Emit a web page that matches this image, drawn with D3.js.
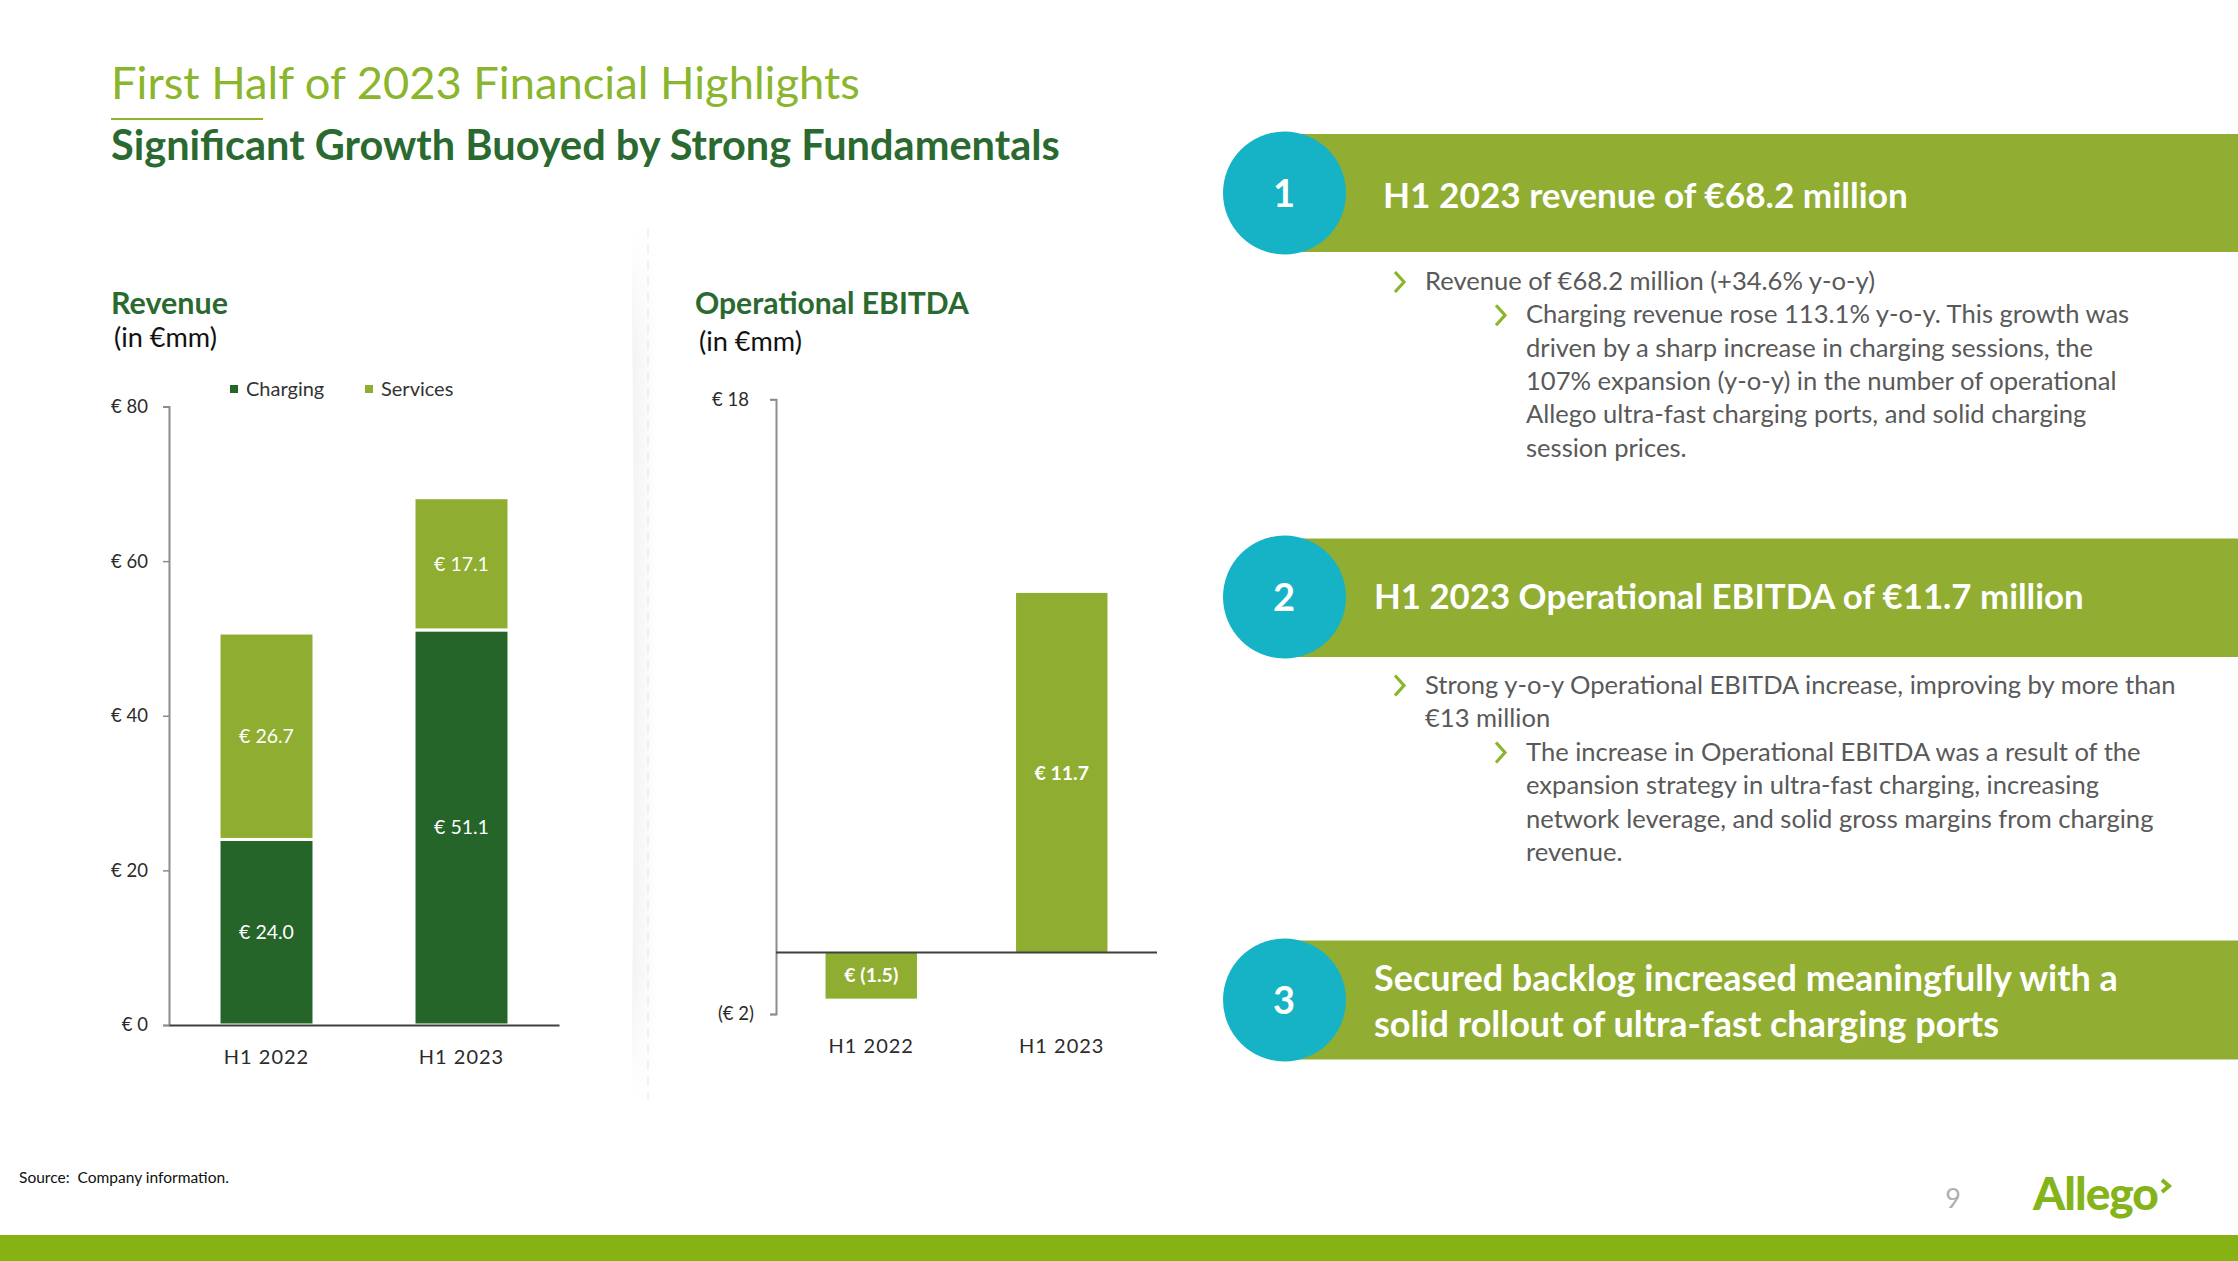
<!DOCTYPE html>
<html>
<head>
<meta charset="utf-8">
<script src="https://cdn.jsdelivr.net/npm/d3@7"></script>
<style>
  html, body { margin: 0; padding: 0; background: #ffffff; }
  svg { display: block; font-family: Lato, "Open Sans", sans-serif; }
  .pre { white-space: pre; }
</style>
</head>
<body>
<svg id="slide" width="2238" height="1261"></svg>
<script>
// ---------- DATA ----------
const revCategories = ["H1 2022", "H1 2023"];
const revSeries = ["Charging", "Services"];
const revCharging = [24.0, 51.1];
const revServices = [26.7, 17.1];
const revTicks = [0, 20, 40, 60, 80];

const ebitdaCategories = ["H1 2022", "H1 2023"];
const ebitdaValues = [-1.5, 11.7];
const ebitdaTicks = [-2, 18];

const slideTitle = "First Half of 2023 Financial Highlights";
const slideSubtitle = "Significant Growth Buoyed by Strong Fundamentals";
const bannerTitles = [
  ["H1 2023 revenue of €68.2 million"],
  ["H1 2023 Operational EBITDA of €11.7 million"],
  ["Secured backlog increased meaningfully with a", "solid rollout of ultra-fast charging ports"]
];
const bullets1 = [
  { level: 1, lines: ["Revenue of €68.2 million (+34.6% y-o-y)"] },
  { level: 2, lines: ["Charging revenue rose 113.1% y-o-y. This growth was",
                      "driven by a sharp increase in charging sessions, the",
                      "107% expansion (y-o-y) in the number of operational",
                      "Allego ultra-fast charging ports, and solid charging",
                      "session prices."] }
];
const bullets2 = [
  { level: 1, lines: ["Strong y-o-y Operational EBITDA increase, improving by more than",
                      "€13 million"] },
  { level: 2, lines: ["The increase in Operational EBITDA was a result of the",
                      "expansion strategy in ultra-fast charging, increasing",
                      "network leverage, and solid gross margins from charging",
                      "revenue."] }
];

// ---------- STYLE ----------
const C = {
  dark: "#256529",
  light: "#8fad31",
  banner: "#91ad32",
  teal: "#16b3c7",
  lime: "#8ab52c",
  subtitle: "#2a6a30",
  body: "#595959",
  axisText: "#2b2b2b",
  band: "#86b214"
};

const svg = d3.select("#slide");

function fit(sel, target) {
  const w = sel.node().getComputedTextLength();
  const fs = parseFloat(sel.attr("font-size"));
  const nfs = fs * target / w;
  sel.attr("font-size", nfs);
  return nfs;
}

// ---------- HEADER ----------
const t1 = svg.append("text").attr("x", 111).attr("y", 99).attr("font-size", 40)
  .attr("fill", C.lime).text(slideTitle);
fit(t1, 749);
svg.append("rect").attr("x", 111).attr("y", 118).attr("width", 152).attr("height", 2).attr("fill", C.lime);
const t2 = svg.append("text").attr("x", 111).attr("y", 160).attr("font-size", 34)
  .attr("font-weight", 700).attr("fill", C.subtitle).text(slideSubtitle);
fit(t2, 949);

// ---------- REVENUE CHART ----------
const rev = svg.append("g");
const rt = rev.append("text").attr("x", 111).attr("y", 314).attr("font-size", 29)
  .attr("font-weight", 700).attr("fill", C.subtitle).text("Revenue");
fit(rt, 117);
const rs = rev.append("text").attr("x", 114).attr("y", 347).attr("font-size", 22)
  .attr("fill", "#111").text("(in €mm)");
fit(rs, 103);

const rx = d3.scaleBand().domain(revCategories).range([169, 559])
  .paddingInner(0.513).paddingOuter(0.2565);
const ry = d3.scaleLinear().domain([0, 80]).range([1025, 406.5]);

const revRows = revCategories.map((c, i) => ({ cat: c, Charging: revCharging[i], Services: revServices[i] }));
const stack = d3.stack().keys(revSeries)(revRows);
const revColor = d3.scaleOrdinal().domain(revSeries).range([C.dark, C.light]);

const layers = rev.append("g").selectAll("g").data(stack).join("g").attr("fill", d => revColor(d.key));
layers.selectAll("rect").data(d => d).join("rect")
  .attr("x", d => rx(d.data.cat))
  .attr("y", d => ry(d[1]))
  .attr("width", rx.bandwidth())
  .attr("height", d => ry(d[0]) - ry(d[1]))
  .attr("stroke", "#fff").attr("stroke-width", 3);

layers.selectAll("text").data(d => d).join("text")
  .attr("x", d => rx(d.data.cat) + rx.bandwidth() / 2)
  .attr("y", d => (ry(d[0]) + ry(d[1])) / 2)
  .attr("dy", "0.35em").attr("text-anchor", "middle")
  .attr("font-size", 19.5).attr("fill", "#fff")
  .text(d => "€ " + (d[1] - d[0]).toFixed(1));

// y axis
const ryAxis = rev.append("g").attr("transform", "translate(169,0)")
  .call(d3.axisLeft(ry).tickValues(revTicks).tickSize(6).tickPadding(15).tickFormat(d => "€ " + d));
ryAxis.select(".domain").attr("stroke", "#8c8c8c").attr("stroke-width", 2);
ryAxis.selectAll(".tick line").attr("stroke", "#8c8c8c").attr("stroke-width", 1.5);
ryAxis.selectAll(".tick text").attr("font-size", 18.5).attr("fill", C.axisText).attr("font-family", "Lato");

// x axis
const rxAxis = rev.append("g").attr("transform", `translate(0,${ry(0)})`)
  .call(d3.axisBottom(rx).tickSize(0).tickSizeOuter(0).tickPadding(25));
rxAxis.select(".domain").attr("stroke", "#404040").attr("stroke-width", 2);
rxAxis.selectAll(".tick text").attr("font-size", 20).attr("letter-spacing", 1)
  .attr("fill", C.axisText).attr("font-family", "Lato");

// legend
const leg = rev.append("g").selectAll("g").data(revSeries).join("g")
  .attr("transform", (d, i) => `translate(${i === 0 ? 230 : 365},389)`);
leg.append("rect").attr("x", 0).attr("y", -4).attr("width", 8).attr("height", 8).attr("fill", d => revColor(d));
leg.append("text").attr("x", 16).attr("dy", "0.35em").attr("font-size", 20)
  .attr("fill", "#333").text(d => d);

// ---------- DIVIDER ----------
const defs = svg.append("defs");
const grad = defs.append("linearGradient").attr("id", "shadow").attr("x1", 0).attr("x2", 1);
grad.append("stop").attr("offset", 0).attr("stop-color", "#000").attr("stop-opacity", 0.05);
grad.append("stop").attr("offset", 1).attr("stop-color", "#000").attr("stop-opacity", 0);
const vgrad = defs.append("linearGradient").attr("id", "vfade").attr("x1", 0).attr("x2", 0).attr("y1", 0).attr("y2", 1);
vgrad.append("stop").attr("offset", 0).attr("stop-color", "#fff").attr("stop-opacity", 1);
vgrad.append("stop").attr("offset", 0.15).attr("stop-color", "#fff").attr("stop-opacity", 0);
vgrad.append("stop").attr("offset", 0.85).attr("stop-color", "#fff").attr("stop-opacity", 0);
vgrad.append("stop").attr("offset", 1).attr("stop-color", "#fff").attr("stop-opacity", 1);
svg.append("path").attr("d", "M631,228 Q637,664 631,1100 L655,1100 Q661,664 655,228 Z").attr("fill", "url(#shadow)");
svg.append("rect").attr("x", 628).attr("y", 228).attr("width", 30).attr("height", 872).attr("fill", "url(#vfade)");
svg.append("line").attr("x1", 648).attr("x2", 648).attr("y1", 228).attr("y2", 1100)
  .attr("stroke", "#e6e6e6").attr("stroke-width", 1).attr("stroke-dasharray", "10,6");

// ---------- EBITDA CHART ----------
const eb = svg.append("g");
const et = eb.append("text").attr("x", 695).attr("y", 314).attr("font-size", 29)
  .attr("font-weight", 700).attr("fill", C.subtitle).text("Operational EBITDA");
fit(et, 274);
const es = eb.append("text").attr("x", 699).attr("y", 351).attr("font-size", 22)
  .attr("fill", "#111").text("(in €mm)");
fit(es, 103);

const ex = d3.scaleBand().domain(ebitdaCategories).range([776, 1157])
  .paddingInner(0.52).paddingOuter(0.26);
const ey = d3.scaleLinear().domain([-2, 18]).range([1014, 399.3]);

const ebRows = ebitdaCategories.map((c, i) => ({ cat: c, v: ebitdaValues[i] }));
eb.append("g").selectAll("rect").data(ebRows).join("rect")
  .attr("x", d => ex(d.cat)).attr("width", ex.bandwidth())
  .attr("y", d => ey(Math.max(0, d.v)))
  .attr("height", d => Math.abs(ey(d.v) - ey(0)))
  .attr("fill", C.light);
eb.append("g").selectAll("text").data(ebRows).join("text")
  .attr("x", d => ex(d.cat) + ex.bandwidth() / 2)
  .attr("y", d => (ey(d.v) + ey(0)) / 2)
  .attr("dy", "0.35em").attr("text-anchor", "middle")
  .attr("font-size", 19.5).attr("font-weight", 700).attr("fill", "#fff")
  .text(d => d.v < 0 ? "€ (" + Math.abs(d.v).toFixed(1) + ")" : "€ " + d.v.toFixed(1));

const eyAxis = eb.append("g").attr("transform", "translate(776,0)")
  .call(d3.axisLeft(ey).tickValues(ebitdaTicks).tickSize(6).tickPadding(16)
    .tickFormat(d => d < 0 ? "(€ " + Math.abs(d) + ")" : "€ " + d));
eyAxis.select(".domain").attr("stroke", "#8c8c8c").attr("stroke-width", 2);
eyAxis.selectAll(".tick line").attr("stroke", "#8c8c8c").attr("stroke-width", 1.5);
eyAxis.selectAll(".tick text").attr("font-size", 18.5).attr("fill", C.axisText).attr("font-family", "Lato")
  .attr("dx", d => d < 0 ? 0 : -5);

// zero line
eb.append("line").attr("x1", 776).attr("x2", 1157).attr("y1", ey(0)).attr("y2", ey(0))
  .attr("stroke", "#404040").attr("stroke-width", 2);
// category labels
const exAxis = eb.append("g").attr("transform", `translate(0,${ey(-2)})`)
  .call(d3.axisBottom(ex).tickSize(0).tickSizeOuter(0).tickPadding(25));
exAxis.select(".domain").remove();
exAxis.selectAll(".tick text").attr("font-size", 20).attr("letter-spacing", 1)
  .attr("fill", C.axisText).attr("font-family", "Lato");

// ---------- RIGHT PANEL ----------
const banners = [
  { top: 134, bottom: 252, cy: 193, num: "1", lines: bannerTitles[0], base: [208], tx: 1383, targets: [525] },
  { top: 538.5, bottom: 657, cy: 597, num: "2", lines: bannerTitles[1], base: [609], tx: 1374, targets: [710] },
  { top: 940.5, bottom: 1059.5, cy: 1000, num: "3", lines: bannerTitles[2], base: [991, 1037], tx: 1374, targets: [744] }
];
const rp = svg.append("g");
banners.forEach(b => {
  rp.append("rect").attr("x", 1284).attr("y", b.top).attr("width", 2238 - 1284)
    .attr("height", b.bottom - b.top).attr("fill", C.banner);
  rp.append("circle").attr("cx", 1284.5).attr("cy", b.cy).attr("r", 61.5).attr("fill", C.teal);
  rp.append("text").attr("x", 1284).attr("y", b.cy).attr("dy", "0.36em").attr("text-anchor", "middle")
    .attr("font-size", 38).attr("font-weight", 700).attr("fill", "#fff").text(b.num);
  let fs = null;
  b.lines.forEach((ln, i) => {
    const t = rp.append("text").attr("x", b.tx).attr("y", b.base[i]).attr("font-size", 34)
      .attr("font-weight", 700).attr("fill", "#fff").text(ln);
    if (i === 0) fs = fit(t, b.targets[0]); else t.attr("font-size", fs);
  });
});

// body text size from one reference line
const probe = rp.append("text").attr("font-size", 24).text(bullets2[0].lines[0]);
const bodyFs = 24 * 751 / probe.node().getComputedTextLength();
probe.remove();

function chevron(x, base) {
  rp.append("path").attr("d", `M${x},${base - 18} L${x + 9},${base - 8} L${x},${base + 2}`)
    .attr("fill", "none").attr("stroke", C.lime).attr("stroke-width", 3.2).attr("stroke-linejoin", "miter");
}
function drawBullets(list, firstBase, lh) {
  let y = firstBase;
  list.forEach(item => {
    const cx = item.level === 1 ? 1395 : 1496;
    const tx = item.level === 1 ? 1425 : 1526;
    chevron(cx, y);
    item.lines.forEach(ln => {
      rp.append("text").attr("x", tx).attr("y", y).attr("font-size", bodyFs).attr("fill", C.body).text(ln);
      y += lh;
    });
  });
}
drawBullets(bullets1, 290, 33.3);
drawBullets(bullets2, 693.5, 33.5);

// ---------- FOOTER ----------
const src = svg.append("text").attr("class", "pre").attr("x", 19).attr("y", 1183).attr("font-size", 15)
  .attr("fill", "#111").text("Source:  Company information.");
fit(src, 210);
svg.append("text").attr("x", 1953).attr("y", 1208).attr("text-anchor", "middle").attr("font-size", 27)
  .attr("fill", "#b0b0b0").text("9");
const logo = svg.append("text").attr("x", 2033).attr("y", 1210).attr("font-size", 40)
  .attr("font-weight", 900).attr("fill", "#84b31a").attr("letter-spacing", -1).text("Allego");
fit(logo, 124);
svg.append("path").attr("d", "M2162,1180 L2169,1186 L2162,1192").attr("fill", "none")
  .attr("stroke", "#84b31a").attr("stroke-width", 4);
svg.append("rect").attr("x", 0).attr("y", 1235).attr("width", 2238).attr("height", 26).attr("fill", C.band);
</script>
</body>
</html>
